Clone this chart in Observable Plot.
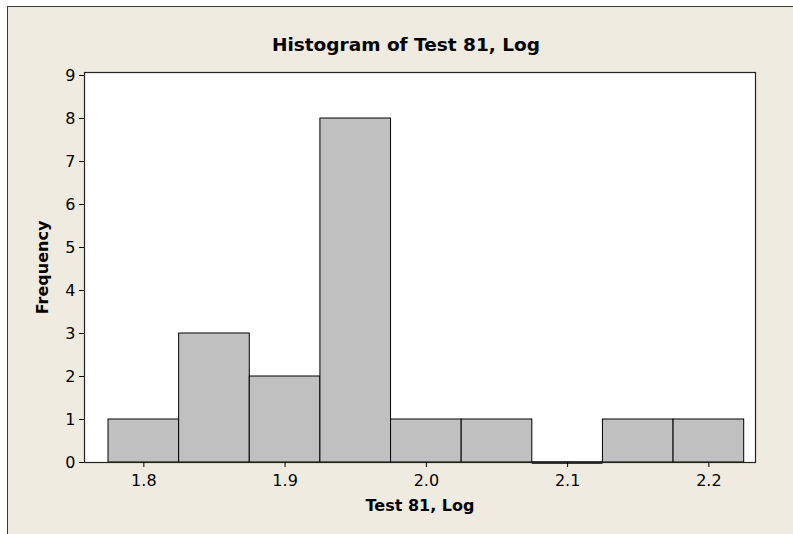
<!DOCTYPE html>
<html>
<head>
<meta charset="utf-8">
<script src="https://cdn.jsdelivr.net/npm/d3@7"></script>
<script src="https://cdn.jsdelivr.net/npm/@observablehq/plot@0.6"></script>
<style>
  html, body { margin: 0; padding: 0; background: #ffffff; }
  #wrap { position: relative; width: 793px; height: 534px; overflow: hidden; }
  #panel { position: absolute; left: 7px; top: 6px; width: 820px; height: 560px;
           background: #efebe1; border: 1px solid #3a3a3a; }
  #chart { position: absolute; left: 0; top: 0; }
</style>
</head>
<body>
<div id="wrap"><div id="panel"></div><div id="chart"></div></div>
<script>
const titleText = "Histogram of Test 81, Log";
const xLabel = "Test 81, Log";
const yLabel = "Frequency";
const binStarts = [1.775, 1.825, 1.875, 1.925, 1.975, 2.025, 2.075, 2.125, 2.175];
const binWidth = 0.05;
const counts = [1, 3, 2, 8, 1, 1, 0, 1, 1];
const xTicks = [1.8, 1.9, 2.0, 2.1, 2.2];
const yTicks = [0, 1, 2, 3, 4, 5, 6, 7, 8, 9];

const bins = binStarts.map((s, i) => ({x1: s, x2: s + binWidth, n: counts[i]}));

const chart = Plot.plot({
  width: 793,
  height: 534,
  marginLeft: 84,
  marginRight: 38,
  marginTop: 72,
  marginBottom: 72,
  style: "background: transparent; font-family: 'DejaVu Sans', sans-serif; font-size: 16px; color: #000;",
  x: {domain: [1.758, 2.233]},
  y: {domain: [0, 9.07]},
  marks: [
    Plot.frame({fill: "white", stroke: null}),
    Plot.rectY(bins.filter(d => d.n > 0), {x1: "x1", x2: "x2", y: "n", fill: "#c0c0c0", stroke: "#000", strokeWidth: 1}),
    Plot.ruleY(bins.filter(d => d.n === 0), {x1: "x1", x2: "x2", y: 0, stroke: "#000", strokeWidth: 2.5}),
    Plot.frame({stroke: "#222", strokeWidth: 1.2}),
    Plot.axisY({ticks: yTicks, tickSize: 5, tickPadding: 4, tickFormat: d3.format("d"), label: null, fontSize: 16, fontFamily: "'DejaVu Sans', sans-serif"}),
    Plot.axisX({ticks: xTicks, tickSize: 5, tickPadding: 7, tickFormat: d3.format(".1f"), label: null, fontSize: 16, fontFamily: "'DejaVu Sans', sans-serif"}),
    Plot.text([yLabel], {frameAnchor: "left", textAnchor: "middle", lineAnchor: "middle", rotate: -90, dx: -42, fontWeight: "bold", fontSize: 16}),
    Plot.text([xLabel], {frameAnchor: "bottom", textAnchor: "middle", lineAnchor: "middle", dy: 43, fontWeight: "bold", fontSize: 16}),
    Plot.text([titleText], {frameAnchor: "top", textAnchor: "middle", lineAnchor: "middle", dy: -27, dx: -14, fontWeight: "bold", fontSize: 18.5})
  ]
});
document.getElementById("chart").appendChild(chart);
</script>
</body>
</html>
